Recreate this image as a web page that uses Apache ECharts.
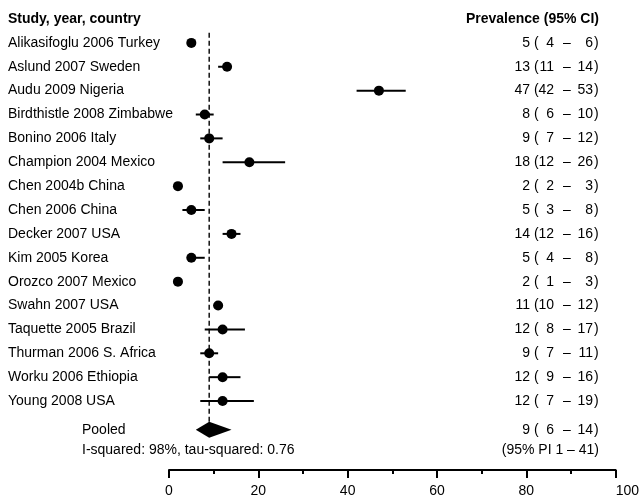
<!DOCTYPE html>
<html>
<head>
<meta charset="utf-8">
<script src="https://cdn.jsdelivr.net/npm/echarts@6/dist/echarts.min.js"></script>
<style>
html,body{margin:0;padding:0;background:#fff;}
#chart{width:642px;height:499px;}
</style>
</head>
<body>
<div id="chart"></div>
<script>
// ---- data ----
const studies = [
  'Alikasifoglu 2006 Turkey','Aslund 2007 Sweden','Audu 2009 Nigeria','Birdthistle 2008 Zimbabwe',
  'Bonino 2006 Italy','Champion 2004 Mexico','Chen 2004b China','Chen 2006 China','Decker 2007 USA',
  'Kim 2005 Korea','Orozco 2007 Mexico','Swahn 2007 USA','Taquette 2005 Brazil','Thurman 2006 S. Africa',
  'Worku 2006 Ethiopia','Young 2008 USA'
];
const est = [5, 13, 47, 8, 9, 18, 2, 5, 14, 5, 2, 11, 12, 9, 12, 12];
const lo  = [4, 11, 42, 6, 7, 12, 2, 3, 12, 4, 1, 10,  8, 7,  9,  7];
const hi  = [6, 14, 53, 10, 12, 26, 3, 8, 16, 8, 3, 12, 17, 11, 16, 19];
const pooledEst = 9;
const pooledCI = [6, 14];
const predInterval = [1, 41];
const iSquared = 98;
const tauSquared = 0.76;
const xTicks = [0, 20, 40, 60, 80, 100];
const headerLeft = 'Study, year, country';
const headerRight = 'Prevalence (95% CI)';

// ---- layout helpers ----
const FONT = 'Liberation Sans, Arial, Helvetica, sans-serif';
const FS = 14;
const pooledRow = 16.2;
const hetRow = 17.05;
const headerRow = -1;

function txt(x, y, s, align, bold) {
  return {type:'text', x:x, y:y, style:{text:s, fontFamily:FONT, fontSize:FS, fontWeight: bold ? 'bold' : 'normal',
    fill:'#000', align:align || 'left', verticalAlign:'middle'}};
}
function ciPieces(y, e, l, h) {
  return [
    txt(530, y, String(e), 'right'),
    txt(534, y, '(', 'left'),
    txt(554, y, String(l), 'right'),
    txt(567, y, '\u2013', 'center'),
    txt(593, y, String(h), 'right'),
    txt(594, y, ')', 'left')
  ];
}

const rowsData = studies.map((s, i) => [i]);

const chart = echarts.init(document.getElementById('chart'), null, {renderer:'canvas'});
const option = {
  animation:false,
  backgroundColor:'#fff',
  grid:{left:169, right:23, top:19, bottom:49},
  xAxis:{
    type:'value', min:xTicks[0], max:xTicks[xTicks.length-1], interval:xTicks[1]-xTicks[0], offset:20,
    axisLine:{show:true, onZero:false, lineStyle:{color:'#000', width:2}},
    axisTick:{show:true, length:8, lineStyle:{color:'#000', width:2}},
    minorTick:{show:true, splitNumber:2, length:4, lineStyle:{color:'#000', width:2}},
    splitLine:{show:false}, minorSplitLine:{show:false},
    axisLabel:{fontFamily:FONT, fontSize:FS, color:'#000', margin:14, alignMaxLabel:'left'}
  },
  yAxis:{type:'value', min:headerRow, max:hetRow, inverse:true, show:false},
  series:[
    {
      type:'line', silent:true, symbol:'none', z:1,
      data:[[pooledEst, -0.42], [pooledEst, pooledRow]],
      lineStyle:{color:'#111', width:1.5, type:[5,3]}
    },
    {
      type:'custom', silent:true, z:2, clip:false,
      data: studies.map((s, i) => [lo[i], hi[i], i]),
      renderItem:function(params, api){
        const a = api.coord([api.value(0), api.value(2)]);
        const b = api.coord([api.value(1), api.value(2)]);
        return {type:'line', shape:{x1:a[0], y1:a[1], x2:b[0], y2:b[1]}, style:{stroke:'#000', lineWidth:2}};
      }
    },
    {
      type:'scatter', silent:true, z:3, symbol:'circle', symbolSize:10,
      itemStyle:{color:'#000', opacity:1},
      data: studies.map((s, i) => [est[i], i])
    },
    {
      type:'custom', silent:true, z:3, clip:false,
      data:[[pooledCI[0], pooledEst, pooledCI[1], pooledRow]],
      renderItem:function(params, api){
        const y = api.value(3);
        const l = api.coord([api.value(0), y]);
        const c = api.coord([api.value(1), y]);
        const r = api.coord([api.value(2), y]);
        const hh = 8;
        return {type:'polygon', shape:{points:[[l[0], c[1]], [c[0], c[1]-hh], [r[0], c[1]], [c[0], c[1]+hh]]},
          style:{fill:'#000'}};
      }
    },
    {
      type:'custom', silent:true, z:4, clip:false,
      data: rowsData,
      renderItem:function(params, api){
        const i = api.value(0);
        const y = api.coord([0, i])[1];
        return {type:'group', children:[txt(8, y, studies[i], 'left')].concat(ciPieces(y, est[i], lo[i], hi[i]))};
      }
    },
    {
      type:'custom', silent:true, z:4, clip:false,
      data:[[0]],
      renderItem:function(params, api){
        const yh = api.coord([0, headerRow])[1];
        const yp = api.coord([0, pooledRow])[1];
        const yi = api.coord([0, hetRow])[1];
        const children = [
          txt(8, yh, headerLeft, 'left', true),
          txt(599, yh, headerRight, 'right', true),
          txt(82, yp, 'Pooled', 'left'),
          txt(82, yi, 'I-squared: ' + iSquared + '%, tau-squared: ' + tauSquared.toFixed(2), 'left'),
          txt(599, yi, '(95% PI ' + predInterval[0] + ' \u2013 ' + predInterval[1] + ')', 'right')
        ].concat(ciPieces(yp, pooledEst, pooledCI[0], pooledCI[1]));
        return {type:'group', children:children};
      }
    }
  ]
};
chart.setOption(option);
</script>
</body>
</html>
